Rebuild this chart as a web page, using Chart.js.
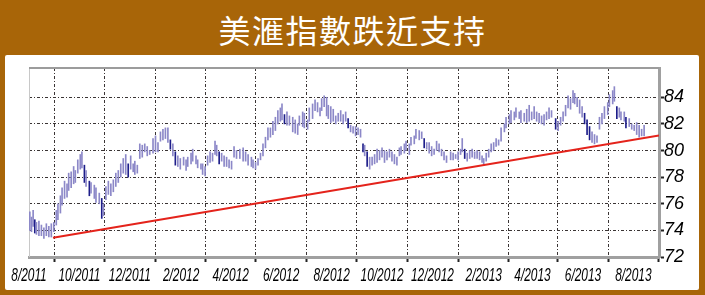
<!DOCTYPE html>
<html>
<head>
<meta charset="utf-8">
<script src="https://cdn.jsdelivr.net/npm/chart.js@4.4.1/dist/chart.umd.min.js"></script>
<style>
    html, body { margin: 0; padding: 0; }
    body { width: 705px; height: 295px; background: #a86508; position: relative; overflow: hidden; }
    #title {
        position: absolute; left: 0; top: 6px; width: 705px; text-align: center;
        color: #fff; font: 32px "Noto Sans CJK TC", "Noto Sans CJK SC", sans-serif; letter-spacing: 1.5px;
    }
    #panel {
        position: absolute; left: 5px; top: 55px; width: 694px; height: 235px;
        background: #fff; border-radius: 2px;
    }
    #chart { position: absolute; left: 0; top: 0; }
</style>
</head>
<body>
<div id="title">美滙指數跌近支持</div>
<div id="panel"><canvas id="chart" width="694" height="235"></canvas></div>
<script>
// tick labels (x is days after 1 Aug 2011)
const xTickDays = [0, 61, 122, 184, 244, 305, 366, 427, 488, 550, 609, 670, 731];
const xTickLabels = ['8/2011', '10/2011', '12/2011', '2/2012', '4/2012', '6/2012', '8/2012',
    '10/2012', '12/2012', '2/2013', '4/2013', '6/2013', '8/2013'];
const yTicks = [72, 74, 76, 78, 80, 82, 84];

// price bars: day, high, low
const barDays = [
    1,3,5,7,9,12,15,18,21,24,27,30,33,35,38,40,43,46,48,51,54,56,59,62,64,67,69,73,75,79,81,85,88,90,93,96,99,102,105,108,111,114,117,120,123,126,
    128,131,134,137,140,143,146,150,153,156,159,162,165,168,171,174,177,180,183,187,190,192,196,198,202,204,208,210,213,216,219,222,225,227,230,233,236,239,242,245,248,251,
    255,259,262,265,269,271,274,277,280,283,286,289,292,295,298,301,304,306,309,312,315,319,322,325,327,331,333,337,339,343,346,349,352,354,357,360,362,365,368,371,374,377,380,
    383,386,389,392,395,398,401,404,406,409,412,415,418,421,424,427,430,433,436,439,442,445,448,450,454,456,460,462,466,468,472,475,478,481,484,487,490,493,496,499,502,505,
    510,513,516,519,522,524,527,530,533,536,539,542,545,548,550,553,556,559,562,565,568,571,575,577,581,583,587,589,593,595,599,602,605,608,611,614,617,620,623,626,629,632,
    637,640,643,646,649,652,655,658,660,663,666,669,672,675,678,681,684,687,690,693,696,700,702,706,708,711,714,716,720,722,726,729,732,735,738,741,744
];
const barHighs = [
    75.4,75.0,75.5,74.8,74.6,74.7,74.4,74.2,74.5,74.3,74.5,74.6,75.5,76.0,76.6,77.2,77.7,77.5,78.3,78.4,78.8,78.5,79.3,79.7,79.9,78.9,78.5,77.7,77.6,77.4,77.2,76.8,76.4,76.0,77.3,77.7,77.5,77.8,78.3,78.5,79.0,79.4,79.7,79.0,79.6,79.0,
    79.2,78.9,80.5,80.4,80.5,80.3,80.0,80.9,81.1,80.6,81.4,81.6,81.7,81.7,80.8,80.5,79.9,79.6,79.4,79.5,79.3,79.5,79.8,80.1,79.6,79.3,79.0,79.0,78.8,79.6,79.9,79.8,80.7,80.4,79.9,79.8,79.6,79.5,79.3,79.2,80.3,80.0,
    80.1,80.2,79.9,79.7,79.5,79.3,79.1,79.4,79.8,80.5,81.0,81.7,81.7,82.2,82.5,83.0,83.2,83.5,82.7,82.9,82.6,82.5,82.3,82.0,82.6,82.9,82.8,82.3,83.2,83.5,83.8,83.6,83.2,83.9,84.1,84.0,83.4,83.3,83.1,82.6,82.8,83.0,82.7,
    82.9,82.4,81.9,81.8,81.8,81.7,81.6,80.5,80.4,79.9,79.5,79.5,79.7,80.1,80.0,80.2,80.0,79.9,80.1,79.9,79.7,79.5,80.2,80.3,80.5,80.7,80.5,81.0,81.1,81.6,81.5,81.4,80.9,80.6,80.6,80.3,80.1,80.7,80.5,80.1,79.9,79.6,
    79.9,79.8,79.7,79.9,80.1,80.9,80.1,79.8,80.0,80.1,79.9,80.0,79.9,79.6,79.4,79.8,80.1,80.5,80.6,80.9,80.8,81.7,82.0,82.5,82.7,83.0,82.9,83.2,82.9,83.0,82.8,83.1,83.4,82.9,83.3,82.9,82.8,82.6,82.7,82.9,83.2,83.0,
    82.4,82.2,82.5,82.9,83.4,84.1,83.9,84.5,84.3,84.0,83.8,83.3,82.8,82.3,81.8,81.4,81.2,81.1,82.5,82.8,83.3,83.6,84.2,84.5,84.8,83.3,83.2,82.9,82.9,82.5,82.4,82.0,81.9,82.1,81.9,81.6,81.9
];
const barLows = [
    74.0,73.9,74.3,73.8,73.7,73.6,73.6,73.4,73.6,73.5,73.5,73.9,74.4,74.8,75.3,75.9,76.4,76.5,77.0,77.2,77.5,77.6,78.3,78.6,78.7,77.6,77.3,76.6,76.8,76.4,76.1,76.0,74.9,75.1,76.3,76.7,76.6,76.9,77.3,77.6,78.0,78.3,78.2,78.0,78.6,78.4,
    78.2,78.3,79.4,79.5,79.9,79.6,79.7,79.8,79.9,79.9,80.7,80.8,80.9,80.6,80.1,79.6,78.9,78.8,78.6,78.9,78.5,78.8,79.0,79.2,79.0,78.7,78.6,78.2,78.1,78.9,79.1,79.2,79.7,79.6,79.0,79.2,78.8,78.8,78.7,78.6,79.5,79.4,
    79.4,79.2,79.2,78.9,78.8,78.7,78.6,78.9,79.3,79.6,80.2,80.8,81.0,81.2,81.5,82.0,82.2,82.3,82.0,81.9,81.9,81.4,81.3,81.2,81.9,81.8,81.7,81.6,82.2,82.4,83.0,82.9,82.6,83.0,83.3,82.6,82.4,82.1,82.2,82.0,82.2,82.2,82.0,
    82.2,81.7,81.4,81.3,81.1,81.2,81.0,79.9,79.6,78.8,78.6,78.9,79.0,79.1,79.3,79.5,79.1,79.3,79.5,79.2,79.0,78.9,79.6,79.7,79.8,80.0,79.7,80.4,80.5,80.9,80.8,80.9,80.2,80.1,79.8,79.6,79.7,80.0,79.9,79.6,79.3,79.1,
    79.3,79.3,79.4,79.3,79.7,79.9,79.4,79.2,79.4,79.5,79.4,79.4,79.3,79.1,78.9,79.2,79.5,79.9,80.0,80.3,80.4,80.7,81.4,81.7,82.0,82.1,82.3,82.5,82.4,82.1,82.2,82.1,82.2,82.3,82.4,82.2,82.1,82.0,81.9,82.3,82.4,82.5,
    81.6,81.5,81.9,82.2,82.6,83.2,83.1,83.6,83.5,83.3,82.8,82.5,82.0,81.2,80.8,80.6,80.5,80.6,81.6,82.0,82.4,82.7,83.3,83.5,83.7,82.4,82.5,82.3,82.2,81.7,81.8,81.6,81.5,81.2,81.0,81.1,81.1
];

// support line: start and end
const supportDays = [29, 762];
const supportValues = [73.45, 81.13];

const bars = barDays.map((d, i) => ({ x: d, y: [barLows[i], barHighs[i]] }));
const support = supportDays.map((d, i) => ({ x: d, y: supportValues[i] }));

//bar turns dark navy when its middle drops clearly against the one before
function barColor(ctx) {
    const i = ctx.dataIndex;
    if (i === 0) return '#8c88c8';
    const mid = (barHighs[i] + barLows[i]) / 2;
    const prev = (barHighs[i - 1] + barLows[i - 1]) / 2;
    return mid < prev - 0.4 ? '#1e1e8a' : '#8c88c8';
}

//frame round the plot (top and left sides)
const framePlugin = {
    id: 'frame',
    beforeDatasetsDraw(chart) {
        const { ctx, chartArea: a } = chart;
        ctx.save();
        ctx.strokeStyle = '#c8c8c8';
        ctx.lineWidth = 1;
        ctx.beginPath();
        ctx.moveTo(a.left + 0.5, a.top);
        ctx.lineTo(a.left + 0.5, a.bottom);
        ctx.stroke();
        ctx.strokeStyle = '#9c9c9c';
        ctx.lineWidth = 2;
        ctx.beginPath();
        ctx.moveTo(a.left, a.top);
        ctx.lineTo(a.right, a.top);
        ctx.stroke();
        ctx.restore();
    }
};

//x labels in italic, squeezed sideways like a narrow face
const dateLabelPlugin = {
    id: 'dateLabels',
    afterDraw(chart) {
        const { ctx } = chart;
        const xs = chart.scales.x;
        ctx.save();
        ctx.fillStyle = '#000';
        ctx.font = 'italic 18px "Liberation Sans", Arial';
        ctx.textAlign = 'center';
        ctx.textBaseline = 'alphabetic';
        xTickDays.forEach((d, i) => {
            ctx.save();
            ctx.translate(xs.getPixelForValue(d), 226);
            ctx.scale(0.66, 1);
            ctx.fillText(xTickLabels[i], 0, 0);
            ctx.restore();
        });
        ctx.restore();
    }
};

new Chart(document.getElementById('chart'), {
    type: 'bar',
    data: {
        datasets: [
            {
                type: 'line',
                data: support,
                borderColor: '#e4231b',
                borderWidth: 2,
                pointRadius: 0,
                order: 0
            },
            {
                data: bars,
                backgroundColor: barColor,
                barThickness: 1,
                order: 1
            }
        ]
    },
    options: {
        responsive: false,
        animation: false,
        layout: { padding: { left: 24, top: 13, right: 0, bottom: 0 } },
        plugins: {
            legend: { display: false },
            tooltip: { enabled: false }
        },
        scales: {
            x: {
                type: 'linear',
                min: 0,
                max: 762,
                offset: false,
                afterBuildTicks: scale => { scale.ticks = xTickDays.map(v => ({ value: v })); },
                afterFit: scale => { scale.height = 33; },
                ticks: { display: false, autoSkip: false, maxRotation: 0 },
                grid: {
                    color: '#3a3434',
                    lineWidth: 1,
                    tickLength: 5,
                    tickColor: '#222',
                    tickWidth: 2
                },
                border: { display: true, color: '#a0a0a0', width: 3, dash: [3, 2, 1, 2] }
            },
            y: {
                position: 'right',
                min: 72,
                max: 86.2,
                afterBuildTicks: scale => { scale.ticks = yTicks.map(v => ({ value: v })); },
                afterFit: scale => { scale.width = 40; },
                ticks: {
                    padding: 0,
                    color: '#000',
                    font: { family: '"Liberation Sans", Arial', style: 'italic', size: 18 }
                },
                grid: {
                    color: '#3a3434',
                    lineWidth: 1,
                    tickLength: 5,
                    tickColor: '#222',
                    tickWidth: 2
                },
                border: { display: true, color: '#a0a0a0', width: 3, dash: [3, 2, 1, 2] }
            }
        }
    },
    plugins: [framePlugin, dateLabelPlugin]
});
</script>
</body>
</html>
